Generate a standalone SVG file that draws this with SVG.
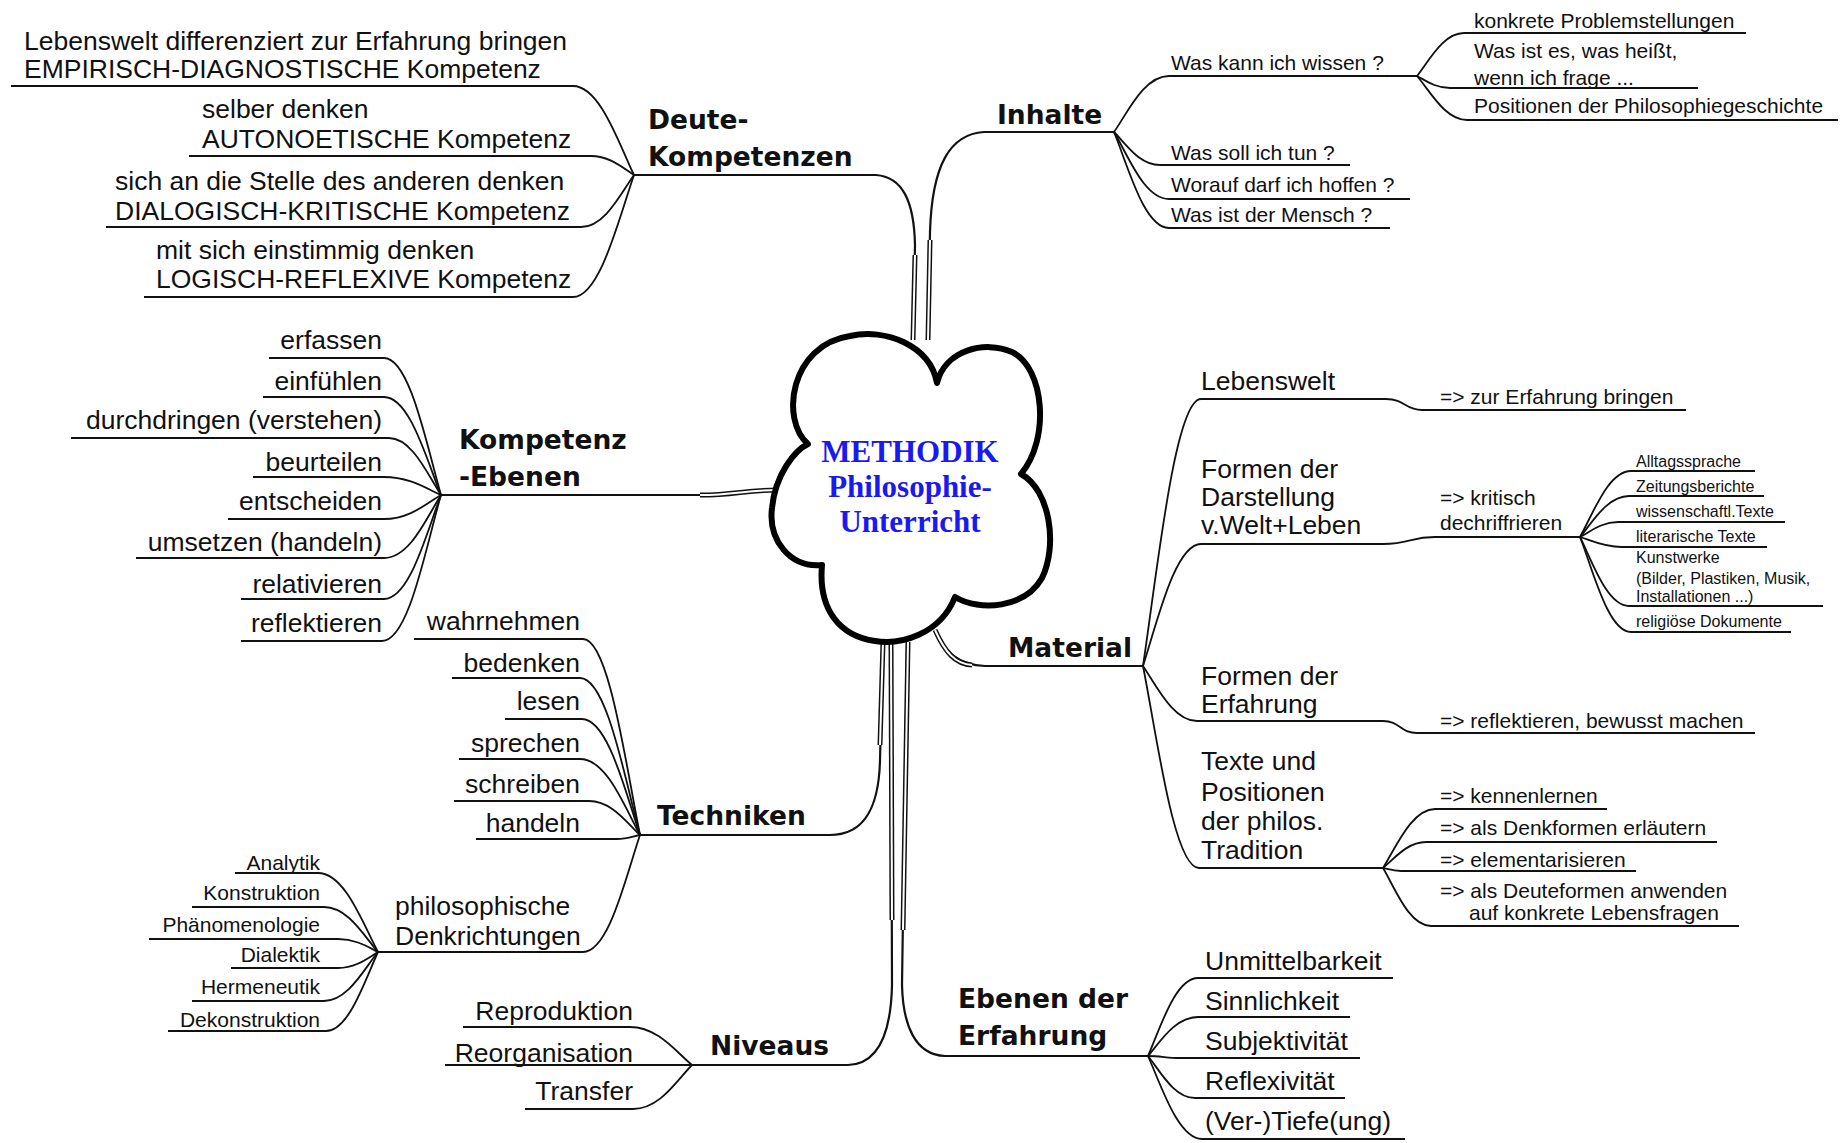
<svg xmlns="http://www.w3.org/2000/svg" width="1847" height="1143" viewBox="0 0 1847 1143">
<style>
  .t { font-family: "Liberation Sans", Arial, sans-serif; font-size: 26.5px; fill: #111; }
  .s { font-size: 21px; }
  .xs { font-size: 16px; }
  .e { text-anchor: end; }
  .b { font-family: "DejaVu Sans", Verdana, sans-serif; font-weight: bold; font-size: 26.5px; fill: #111; }
  .c { stroke: #111; stroke-width: 1.8; fill: none; }
  .tr { stroke: #111; stroke-width: 2.2; fill: none; }
  .rb { stroke: #111; stroke-width: 5; fill: none; }
  .rbi { stroke: #fff; stroke-width: 2; fill: none; }
  .cloud { fill: #fff; stroke: #000; stroke-width: 6; stroke-linejoin: round; }
  .ct { font-family: "Liberation Serif", "Times New Roman", serif; font-weight: bold; font-size: 31px; fill: #1a1aee; text-anchor: middle; }
</style>

<rect width="1847" height="1143" fill="#fff"/>

<g id="connectors">
  <!-- main branches from the central cloud -->
  <path class="tr" d="M634,175 H876 C902,177 914,200 915,245 L913,337"/>
  <path class="tr" d="M1114,132 H984 C950,134 932,165 930,232 L928,337"/>
  <path class="tr" d="M441,495 H700 C735,495 745,490 775,490"/>
  <path class="tr" d="M640,835 H830 C866,835 879,805 880,760 L883,645"/>
  <path class="tr" d="M692,1065 H848 C880,1064 891,1030 892,985 L891,645"/>
  <path class="tr" d="M1148,1056 H945 C915,1055 903,1025 902,985 L907,645"/>
  <path class="tr" d="M1143,666 H985 C958,665 945,652 937,633"/>
  <!-- ribbon parts close to the cloud -->
  <g>
    <path class="rb" d="M915,255 L913,340"/>
    <path class="rb" d="M930,240 L928,340"/>
    <path class="rb" d="M700,495 C735,495 745,490 778,490"/>
    <path class="rb" d="M880,745 L883,642"/>
    <path class="rb" d="M892,920 L891,642"/>
    <path class="rb" d="M903,930 L908,642"/>
    <path class="rb" d="M972,665 C955,664 945,652 935,630"/>
    <path class="rbi" d="M915,255 L913,340"/>
    <path class="rbi" d="M930,240 L928,340"/>
    <path class="rbi" d="M700,495 C735,495 745,490 778,490"/>
    <path class="rbi" d="M880,745 L883,642"/>
    <path class="rbi" d="M892,920 L891,642"/>
    <path class="rbi" d="M903,930 L908,642"/>
    <path class="rbi" d="M972,665 C955,664 945,652 935,630"/>
  </g>

  <!-- Deute-Kompetenzen -->
  <path class="c" d="M11,86 H573 C600,86 619,144 634,175"/>
  <path class="c" d="M189,156 H591 C610,156 623,168 634,175"/>
  <path class="c" d="M106,227 H581 C605,227 621,193 634,175"/>
  <path class="c" d="M144,297 H573 C600,297 619,218 634,175"/>

  <!-- Kompetenz-Ebenen -->
  <path class="c" d="M269,358 H384 C410,358 427,447 441,495"/>
  <path class="c" d="M263,397 H384 C410,397 427,461 441,495"/>
  <path class="c" d="M71,438 H389 C412,438 428,475 441,495"/>
  <path class="c" d="M253,477 H384 C410,477 427,489 441,495"/>
  <path class="c" d="M228,519 H384 C410,519 427,503 441,495"/>
  <path class="c" d="M136,558 H384 C410,558 427,517 441,495"/>
  <path class="c" d="M241,599 H384 C410,599 427,531 441,495"/>
  <path class="c" d="M241,641 H382 C409,641 426,546 441,495"/>

  <!-- Techniken -->
  <path class="c" d="M414,639 H583 C609,639 626,766 640,835"/>
  <path class="c" d="M452,678 H580 C607,678 625,780 640,835"/>
  <path class="c" d="M505,719 H582 C608,719 626,794 640,835"/>
  <path class="c" d="M459,759 H580 C607,759 625,808 640,835"/>
  <path class="c" d="M454,801 H589 C612,801 627,823 640,835"/>
  <path class="c" d="M476,839 H617 C627,839 634,836 640,835"/>
  <path class="c" d="M378,952 H583 C609,952 626,876 640,835"/>

  <!-- philosophische Denkrichtungen -->
  <path class="c" d="M235,873 H318 C345,873 363,924 378,952"/>
  <path class="c" d="M192,907 H324 C348,907 364,936 378,952"/>
  <path class="c" d="M149,939 H338 C356,939 368,947 378,952"/>
  <path class="c" d="M231,968 H338 C356,968 368,958 378,952"/>
  <path class="c" d="M192,1001 H324 C348,1001 364,969 378,952"/>
  <path class="c" d="M168,1031 H326 C349,1031 365,980 378,952"/>

  <!-- Niveaus -->
  <path class="c" d="M463,1027 H630 C658,1027 676,1052 692,1065"/>
  <path class="c" d="M445,1065 H692"/>
  <path class="c" d="M525,1109 H633 C660,1109 677,1080 692,1065"/>

  <!-- Inhalte -->
  <path class="c" d="M1114,132 C1128,112 1144,76 1169,76 H1417"/>
  <path class="c" d="M1114,132 C1126,144 1139,165 1160,165 H1350"/>
  <path class="c" d="M1114,132 C1128,155 1144,199 1169,199 H1410"/>
  <path class="c" d="M1114,132 C1128,166 1144,228 1169,228 H1390"/>
  <path class="c" d="M1417,76 C1429,61 1443,33 1464,33 H1746"/>
  <path class="c" d="M1417,76 C1425,80 1435,88 1450,88 H1698"/>
  <path class="c" d="M1417,76 C1430,91 1445,120 1467,120 H1838"/>

  <!-- Material -->
  <path class="c" d="M1143,666 C1157,573 1175,399 1201,399 H1386 C1405,399 1405,410 1422,410 H1686"/>
  <path class="c" d="M1143,666 C1157,623 1175,544 1201,544 H1383 C1410,544 1410,537 1435,537 H1580"/>
  <path class="c" d="M1143,666 C1156,685 1173,721 1197,721 H1383 C1400,721 1400,733 1417,733 H1755"/>
  <path class="c" d="M1143,666 C1157,737 1174,868 1199,868 H1383"/>
  <path class="c" d="M1580,537 C1593,514 1608,471 1631,471 H1755"/>
  <path class="c" d="M1580,537 C1592,523 1607,496 1629,496 H1764"/>
  <path class="c" d="M1580,537 C1590,532 1601,522 1618,522 H1785"/>
  <path class="c" d="M1580,537 C1590,540 1603,547 1622,547 H1767"/>
  <path class="c" d="M1580,537 C1592,561 1607,606 1629,606 H1823"/>
  <path class="c" d="M1580,537 C1593,570 1608,632 1631,632 H1791"/>
  <path class="c" d="M1383,868 C1396,847 1412,809 1435,809 H1607"/>
  <path class="c" d="M1383,868 C1394,859 1407,842 1426,842 H1717"/>
  <path class="c" d="M1383,868 C1388,869 1393,871 1401,871 H1636"/>
  <path class="c" d="M1383,868 C1395,888 1409,926 1431,926 H1739"/>

  <!-- Ebenen der Erfahrung -->
  <path class="c" d="M1148,1056 C1160,1029 1175,978 1198,978 H1393"/>
  <path class="c" d="M1148,1056 C1160,1042 1175,1017 1198,1017 H1350"/>
  <path class="c" d="M1148,1056 C1160,1056 1168,1058 1179,1058 H1360"/>
  <path class="c" d="M1148,1056 C1160,1071 1174,1098 1195,1098 H1345"/>
  <path class="c" d="M1148,1056 C1161,1085 1178,1139 1202,1139 H1405"/>
</g>

<!-- central cloud -->
<g id="center">
  <path class="cloud" d="M808,444 C780,420 790,345 850,336 C885,328 930,345 937,383 C945,350 985,340 1012,352 C1045,368 1050,440 1021,474 C1050,490 1058,545 1042,578 C1025,608 980,612 955,597 C940,635 900,645 875,641 C840,636 818,610 822,565 C790,568 768,540 772,508 C775,475 795,450 808,444 Z"/>
  <text class="ct" x="910" y="462">METHODIK</text>
  <text class="ct" x="910" y="497">Philosophie-</text>
  <text class="ct" x="910" y="532">Unterricht</text>
</g>

<g id="deute-kompetenzen">
  <text class="b" x="648" y="129">Deute-</text>
  <text class="b" x="648" y="166">Kompetenzen</text>
  <text class="t" x="24" y="50">Lebenswelt differenziert zur Erfahrung bringen</text>
  <text class="t" x="24" y="78">EMPIRISCH-DIAGNOSTISCHE Kompetenz</text>
  <text class="t" x="202" y="118">selber denken</text>
  <text class="t" x="202" y="148">AUTONOETISCHE Kompetenz</text>
  <text class="t" x="115" y="190">sich an die Stelle des anderen denken</text>
  <text class="t" x="115" y="220">DIALOGISCH-KRITISCHE Kompetenz</text>
  <text class="t" x="156" y="259">mit sich einstimmig denken</text>
  <text class="t" x="156" y="288">LOGISCH-REFLEXIVE Kompetenz</text>
</g>

<g id="inhalte">
  <text class="b" x="997" y="124">Inhalte</text>
  <text class="t s" x="1171" y="70">Was kann ich wissen ?</text>
  <text class="t s" x="1474" y="28">konkrete Problemstellungen</text>
  <text class="t s" x="1474" y="58">Was ist es, was heißt,</text>
  <text class="t s" x="1474" y="85">wenn ich frage ...</text>
  <text class="t s" x="1474" y="113">Positionen der Philosophiegeschichte</text>
  <text class="t s" x="1171" y="160">Was soll ich tun ?</text>
  <text class="t s" x="1171" y="192">Worauf darf ich hoffen ?</text>
  <text class="t s" x="1171" y="222">Was ist der Mensch ?</text>
</g>

<g id="kompetenz-ebenen">
  <text class="b" x="459" y="449">Kompetenz</text>
  <text class="b" x="459" y="486">-Ebenen</text>
  <text class="t e" x="382" y="349">erfassen</text>
  <text class="t e" x="382" y="390">einfühlen</text>
  <text class="t e" x="382" y="429">durchdringen (verstehen)</text>
  <text class="t e" x="382" y="471">beurteilen</text>
  <text class="t e" x="382" y="510">entscheiden</text>
  <text class="t e" x="382" y="551">umsetzen (handeln)</text>
  <text class="t e" x="382" y="593">relativieren</text>
  <text class="t e" x="382" y="632">reflektieren</text>
</g>

<g id="techniken">
  <text class="b" x="657" y="825">Techniken</text>
  <text class="t e" x="580" y="630">wahrnehmen</text>
  <text class="t e" x="580" y="672">bedenken</text>
  <text class="t e" x="580" y="710">lesen</text>
  <text class="t e" x="580" y="752">sprechen</text>
  <text class="t e" x="580" y="793">schreiben</text>
  <text class="t e" x="580" y="832">handeln</text>
</g>

<g id="denkrichtungen">
  <text class="t" x="395" y="915">philosophische</text>
  <text class="t" x="395" y="945">Denkrichtungen</text>
  <text class="t s e" x="320" y="870">Analytik</text>
  <text class="t s e" x="320" y="900">Konstruktion</text>
  <text class="t s e" x="320" y="932">Phänomenologie</text>
  <text class="t s e" x="320" y="962">Dialektik</text>
  <text class="t s e" x="320" y="994">Hermeneutik</text>
  <text class="t s e" x="320" y="1027">Dekonstruktion</text>
</g>

<g id="niveaus">
  <text class="b" x="710" y="1055">Niveaus</text>
  <text class="t e" x="633" y="1020">Reproduktion</text>
  <text class="t e" x="633" y="1062">Reorganisation</text>
  <text class="t e" x="633" y="1100">Transfer</text>
</g>

<g id="material">
  <text class="b" x="1008" y="657">Material</text>
  <text class="t" x="1201" y="390">Lebenswelt</text>
  <text class="t s" x="1440" y="404">=&gt; zur Erfahrung bringen</text>
  <text class="t" x="1201" y="478">Formen der</text>
  <text class="t" x="1201" y="506">Darstellung</text>
  <text class="t" x="1201" y="534">v.Welt+Leben</text>
  <text class="t s" x="1440" y="505">=&gt; kritisch</text>
  <text class="t s" x="1440" y="530">dechriffrieren</text>
  <text class="t xs" x="1636" y="467">Alltagssprache</text>
  <text class="t xs" x="1636" y="492">Zeitungsberichte</text>
  <text class="t xs" x="1636" y="517">wissenschaftl.Texte</text>
  <text class="t xs" x="1636" y="542">literarische Texte</text>
  <text class="t xs" x="1636" y="563">Kunstwerke</text>
  <text class="t xs" x="1636" y="584">(Bilder, Plastiken, Musik,</text>
  <text class="t xs" x="1636" y="602">Installationen ...)</text>
  <text class="t xs" x="1636" y="627">religiöse Dokumente</text>
  <text class="t" x="1201" y="685">Formen der</text>
  <text class="t" x="1201" y="713">Erfahrung</text>
  <text class="t s" x="1440" y="728">=&gt; reflektieren, bewusst machen</text>
  <text class="t" x="1201" y="770">Texte und</text>
  <text class="t" x="1201" y="801">Positionen</text>
  <text class="t" x="1201" y="830">der philos.</text>
  <text class="t" x="1201" y="859">Tradition</text>
  <text class="t s" x="1440" y="803">=&gt; kennenlernen</text>
  <text class="t s" x="1440" y="835">=&gt; als Denkformen erläutern</text>
  <text class="t s" x="1440" y="867">=&gt; elementarisieren</text>
  <text class="t s" x="1440" y="898">=&gt; als Deuteformen anwenden</text>
  <text class="t s" x="1469" y="920">auf konkrete Lebensfragen</text>
</g>

<g id="ebenen-der-erfahrung">
  <text class="b" x="958" y="1008">Ebenen der</text>
  <text class="b" x="958" y="1045">Erfahrung</text>
  <text class="t" x="1205" y="970">Unmittelbarkeit</text>
  <text class="t" x="1205" y="1010">Sinnlichkeit</text>
  <text class="t" x="1205" y="1050">Subjektivität</text>
  <text class="t" x="1205" y="1090">Reflexivität</text>
  <text class="t" x="1205" y="1130">(Ver-)Tiefe(ung)</text>
</g>
</svg>
